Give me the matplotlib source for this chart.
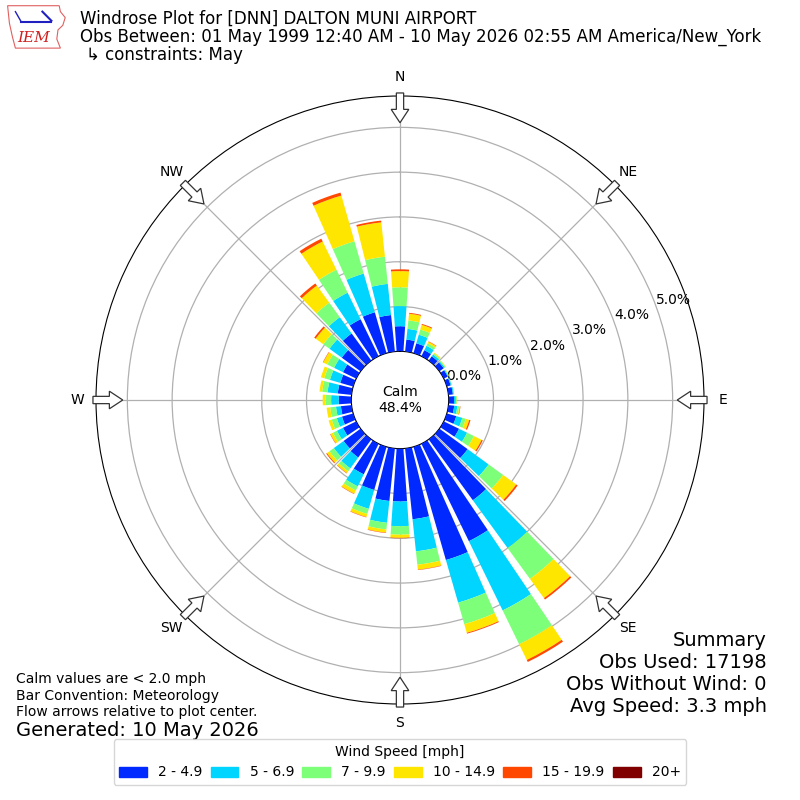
import numpy as np
import matplotlib
matplotlib.use("Agg")
import matplotlib.pyplot as plt
from matplotlib.patches import FancyArrow, Patch, Polygon

# wind direction bins (degrees, meteorological "from")
directions = np.arange(0, 360, 10)

# percent of observations per speed bin, per direction
spd_2_5 = [0.56, 0.27, 0.23, 0.15, 0.12, 0.12, 0.10, 0.09, 0.10, 0.12,
           0.13, 0.22, 0.38, 0.78, 1.68, 2.42, 2.63, 1.59, 1.18, 1.18,
           1.00, 0.76, 0.50, 0.47, 0.33, 0.26, 0.24, 0.28, 0.31, 0.30,
           0.33, 0.52, 0.75, 0.92, 0.95, 0.82]
spd_5_7 = [0.45, 0.24, 0.20, 0.11, 0.05, 0.03, 0.02, 0.02, 0.02, 0.04,
           0.07, 0.14, 0.20, 0.58, 1.32, 1.72, 0.99, 0.72, 0.55, 0.49,
           0.44, 0.30, 0.30, 0.27, 0.15, 0.12, 0.11, 0.17, 0.23, 0.24,
           0.22, 0.34, 0.45, 0.66, 0.90, 0.70]
spd_7_10 = [0.42, 0.19, 0.12, 0.06, 0.03, 0.02, 0.01, 0.01, 0.01, 0.02,
            0.04, 0.08, 0.17, 0.40, 0.85, 0.84, 0.50, 0.30, 0.19, 0.15,
            0.12, 0.10, 0.08, 0.12, 0.10, 0.12, 0.13, 0.12, 0.12, 0.13,
            0.17, 0.17, 0.40, 0.57, 0.75, 0.61]
spd_10_15 = [0.36, 0.15, 0.11, 0.04, 0.02, 0.01, 0.01, 0.00, 0.00, 0.01,
             0.02, 0.08, 0.19, 0.36, 0.53, 0.39, 0.20, 0.11, 0.07, 0.07,
             0.07, 0.08, 0.05, 0.07, 0.06, 0.07, 0.08, 0.07, 0.06, 0.08,
             0.10, 0.21, 0.47, 0.70, 1.06, 0.77]
spd_15_20 = [0.04, 0.02, 0.02, 0.01, 0.00, 0.00, 0.00, 0.00, 0.00, 0.00,
             0.01, 0.03, 0.03, 0.04, 0.04, 0.05, 0.02, 0.01, 0.01, 0.01,
             0.01, 0.01, 0.01, 0.02, 0.01, 0.00, 0.00, 0.00, 0.00, 0.00,
             0.01, 0.04, 0.06, 0.07, 0.07, 0.04]
spd_20p = [0.0] * 36

speed_labels = ["2 - 4.9", "5 - 6.9", "7 - 9.9", "10 - 14.9", "15 - 19.9", "20+"]
compass = ["N", "NE", "E", "SE", "S", "SW", "W", "NW"]
rticks = [0, 1, 2, 3, 4, 5]
calm_pct = 48.4


def draw():
    fig = plt.figure(figsize=(8, 8), dpi=100)
    ax = fig.add_axes([0.12, 0.12, 0.76, 0.76], projection="polar")
    ax.set_theta_zero_location("N")
    ax.set_theta_direction(-1)
    ax.set_rorigin(-1.087)
    ax.set_ylim(0, 5.70)

    colors = plt.get_cmap("jet")(np.arange(1, 7) / 6.0)
    series = [spd_2_5, spd_5_7, spd_7_10, spd_10_15, spd_15_20, spd_20p]
    theta = np.deg2rad(directions)
    base = np.zeros(len(directions))
    for vals, col in zip(series, colors):
        vals = np.array(vals)
        ax.bar(theta, vals, width=np.deg2rad(8), bottom=base, color=col,
               linewidth=0, zorder=3)
        base = base + vals

    ax.set_thetagrids(range(0, 360, 45), labels=compass)
    ax.tick_params(axis="x", pad=3, labelsize=10)
    ax.set_yticks(rticks)
    ax.set_yticklabels(["%.1f%%" % v for v in rticks])
    ax.set_rlabel_position(70)
    ax.grid(True, color="#b0b0b0", lw=0.9)

    ax.text(0.5, 0.5, "Calm\n%.1f%%" % calm_pct, transform=ax.transAxes,
            ha="center", va="center", fontsize=10, zorder=6)

    # flow arrows on the rim
    for deg in range(0, 360, 45):
        a = np.deg2rad(deg)
        r0, r1 = 0.505, 0.456
        x0 = 0.5 + r0 * np.sin(a)
        y0 = 0.5 + r0 * np.cos(a)
        dx = (r1 - r0) * np.sin(a)
        dy = (r1 - r0) * np.cos(a)
        arr = FancyArrow(x0, y0, dx, dy, width=0.012, head_width=0.029,
                         head_length=0.022, length_includes_head=True,
                         transform=ax.transAxes, fc="white", ec="#333333",
                         lw=0.9, clip_on=False, zorder=10)
        ax.add_patch(arr)

    # titles
    fig.text(0.1, 1 - 19 / 800., "Windrose Plot for [DNN] DALTON MUNI AIRPORT",
             fontsize=12, va="center")
    fig.text(0.1, 1 - 37 / 800.,
             "Obs Between: 01 May 1999 12:40 AM - 10 May 2026 02:55 AM America/New_York",
             fontsize=12, va="center")
    fig.text(0.108, 1 - 55 / 800., "\u21b3 constraints: May", fontsize=12, va="center")

    # logo
    lax = fig.add_axes([0.008, 0.937, 0.075, 0.057])
    lax.set_xlim(0, 1)
    lax.set_ylim(0, 1)
    lax.axis("off")
    lax.add_patch(Polygon([[0.02, 0.98], [0.88, 0.98], [0.9, 0.85], [0.98, 0.72],
                           [0.94, 0.55], [0.86, 0.45], [0.84, 0.25], [0.9, 0.05],
                           [0.15, 0.05], [0.1, 0.3], [0.05, 0.6]],
                          closed=True, fill=False, ec="#e06060", lw=0.8))
    lax.plot([0.25, 0.75], [0.62, 0.62], color="#2020c0", lw=1.5)
    lax.plot([0.6, 0.75], [0.85, 0.65], color="#2020c0", lw=1.5)
    lax.plot([0.25, 0.15], [0.62, 0.85], color="#2020c0", lw=1)
    lax.text(0.45, 0.28, "IEM", color="#d02020", fontsize=11, family="serif",
             style="italic", ha="center", va="center")

    # notes
    fig.text(0.02, 1 - 679 / 800., "Calm values are < 2.0 mph", fontsize=10, va="center")
    fig.text(0.02, 1 - 696 / 800., "Bar Convention: Meteorology", fontsize=10, va="center")
    fig.text(0.02, 1 - 712 / 800., "Flow arrows relative to plot center.", fontsize=10,
             va="center")
    fig.text(0.02, 1 - 730 / 800., "Generated: 10 May 2026", fontsize=14, va="center")

    summary = ["Summary", "Obs Used: 17198", "Obs Without Wind: 0", "Avg Speed: 3.3 mph"]
    for i, s in enumerate(summary):
        fig.text(767 / 800., 1 - (640 + 22 * i) / 800., s, fontsize=14,
                 ha="right", va="center")

    handles = [Patch(color=c) for c in colors]
    fig.legend(handles, speed_labels, loc="lower center", ncol=6,
               bbox_to_anchor=(0.5, 0.01), title="Wind Speed [mph]",
               fontsize=10, title_fontsize=10, columnspacing=0.6)

    fig.savefig("out.png", dpi=100)


if __name__ == "__main__":
    draw()
